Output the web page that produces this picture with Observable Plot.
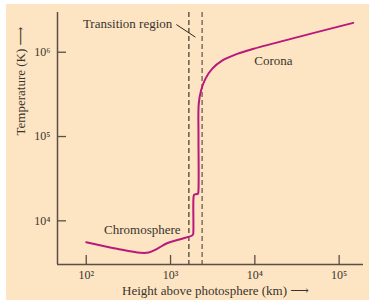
<!DOCTYPE html>
<html><head><meta charset="utf-8">
<script src="https://cdn.jsdelivr.net/npm/d3@7"></script>
<script src="https://cdn.jsdelivr.net/npm/@observablehq/plot@0.6"></script>
<style>
html,body{margin:0;padding:0;background:#fff;}
#chart svg{display:block;box-shadow:inset 6px 4px 0 #fff, inset -3px 0 0 #fff;}
</style></head><body><div id="chart"></div>
<script>
// Height above photosphere (km) and temperature (K)
const heights = [100, 231, 438, 550, 692, 908, 1306, 1800, 1850, 1866, 1870, 1900, 2000, 2110, 2140, 2145, 2160, 2300, 2590, 3110, 4090, 6170, 9710, 146900];
const temps   = [5570, 4660, 4170, 4200, 4660, 5420, 6050, 6700, 6900, 7600, 18500, 20300, 20700, 20900, 22500, 100000, 244000, 352000, 483000, 635000, 794000, 955000, 1100000, 2230000];

const xTicks = [100, 1000, 10000, 100000];
const yTicks = [1e4, 1e5, 1e6];
const xDomain = [45.6, 194500];
const yDomain = [3033, 2.96e6];
const transitionBounds = [1650, 2370];

const regionNames = ["Chromosphere", "Corona"];
const regionX = [463, 16600];
const regionY = [7890, 782000];

const transitionLabel = "Transition region";
const transitionLabelX = [1050];
const transitionLabelY = [2.19e6];
const leaderX = [1172, 1972];
const leaderY = [2.13e6, 1.51e6];

const xLabel = "Height above photosphere (km) \u27F6";
const yLabel = "Temperature (K) \u27F6";

const supDigits = {"0":"\u2070","1":"\u00B9","2":"\u00B2","3":"\u00B3","4":"\u2074","5":"\u2075","6":"\u2076","7":"\u2077","8":"\u2078","9":"\u2079"};
const powFmt = d => "10" + String(Math.round(Math.log10(d))).split("").map(c => supDigits[c]).join("");

const profile = heights.map((h, i) => ({h, t: temps[i]}));
const regions = regionNames.map((n, i) => ({n, x: regionX[i], y: regionY[i]}));

const axisColor = "#5a4e45";
const textColor = "#3a332d";

const chart = Plot.plot({
  width: 372, height: 300,
  marginLeft: 57, marginRight: 9, marginTop: 12, marginBottom: 36,
  style: {background: "#fde5c3", fontFamily: "'Liberation Serif','DejaVu Serif',serif", fontSize: "13px", color: textColor},
  x: {type: "log", domain: xDomain},
  y: {type: "log", domain: yDomain},
  marks: [
    Plot.ruleX([transitionBounds[0]], {stroke: "#2b2724", strokeWidth: 1.1, strokeDasharray: "5,3"}),
    Plot.ruleX([transitionBounds[1]], {stroke: "#877668", strokeWidth: 1.6, strokeDasharray: "5,3"}),
    Plot.ruleX([xDomain[0]], {stroke: axisColor, strokeWidth: 1.5}),
    Plot.ruleY([yDomain[0]], {stroke: axisColor, strokeWidth: 1.5}),
    Plot.axisX({ticks: xTicks, tickSize: -9, fill: "none", label: null, stroke: axisColor, strokeWidth: 1.3}),
    Plot.axisX({ticks: xTicks, tickSize: 0, tickPadding: 6, tickFormat: powFmt, label: null, fill: textColor, fontSize: 12}),
    Plot.axisY({ticks: yTicks, tickSize: -9, fill: "none", label: null, stroke: axisColor, strokeWidth: 1.3}),
    Plot.axisY({ticks: yTicks, tickSize: 0, tickPadding: 7, tickFormat: powFmt, label: null, fill: textColor, fontSize: 12}),
    Plot.line(profile, {x: "h", y: "t", stroke: "#b8197a", strokeWidth: 2, curve: "catmull-rom"}),
    Plot.text(regions, {x: "x", y: "y", text: "n", fill: textColor, fontSize: 13}),
    Plot.text([transitionLabel], {x: transitionLabelX, y: transitionLabelY, text: d => d, textAnchor: "end", fill: textColor, fontSize: 13}),
    Plot.link([0], {x1: [leaderX[0]], y1: [leaderY[0]], x2: [leaderX[1]], y2: [leaderY[1]], stroke: "#2b2724", strokeWidth: 1}),
    Plot.text([xLabel], {frameAnchor: "bottom", dy: 30, dx: 5, text: d => d, fill: textColor, fontSize: 13}),
    Plot.text([yLabel], {frameAnchor: "left", rotate: -90, dx: -37, dy: -3, text: d => d, fill: textColor, fontSize: 13})
  ]
});
document.getElementById("chart").appendChild(chart);
</script></body></html>
